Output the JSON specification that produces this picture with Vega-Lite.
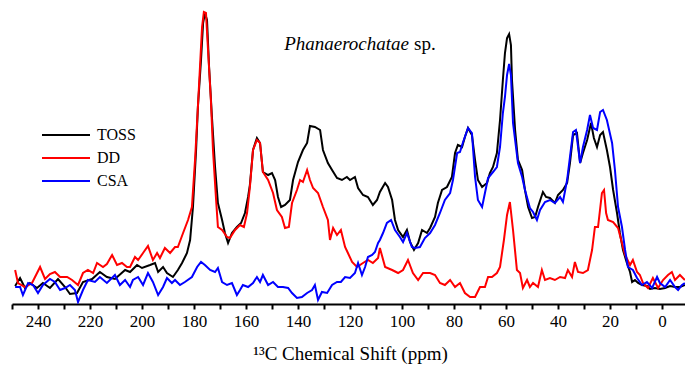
{
"$schema": "https://vega.github.io/schema/vega-lite/v6.json",
"width": 676, "height": 304,
"autosize": {"type": "none"},
"padding": {"left": 12, "top": 0, "right": 0, "bottom": 63},
"background": "white",
"config": {"font": "Liberation Serif", "view": {"stroke": null},
"axis": {"labelFont": "Liberation Serif", "titleFont": "Liberation Serif"},
"legend": {"labelFont": "Liberation Serif"},
"text": {"font": "Liberation Serif"}},
"resolve": {"axis": {"x": "independent"}},
"datasets": {
"TOSS": [
{"p":248.8,"i":18},{"p":246.9,"i":26},{"p":245.0,"i":16},{"p":243.1,"i":21},{"p":240.4,"i":16},{"p":238.1,"i":21},{"p":235.4,"i":16},{"p":232.3,"i":25},{"p":229.6,"i":17},{"p":227.7,"i":10},{"p":225.0,"i":11},{"p":222.7,"i":22},{"p":219.2,"i":25},{"p":216.2,"i":32},{"p":213.5,"i":27},{"p":210.4,"i":25},{"p":206.5,"i":34},{"p":204.6,"i":32},{"p":201.9,"i":39},{"p":200.0,"i":36},{"p":196.9,"i":39},{"p":195.0,"i":41},{"p":193.8,"i":32},{"p":191.9,"i":37},{"p":190.4,"i":31},{"p":188.1,"i":27},{"p":186.2,"i":34},{"p":184.6,"i":41},{"p":182.7,"i":51},{"p":181.5,"i":64},{"p":180.4,"i":97},{"p":179.2,"i":154},{"p":178.5,"i":197},{"p":177.3,"i":244},{"p":176.5,"i":281},{"p":175.8,"i":291},{"p":175.0,"i":284},{"p":174.2,"i":237},{"p":173.1,"i":187},{"p":171.9,"i":137},{"p":170.8,"i":101},{"p":169.2,"i":84},{"p":168.1,"i":71},{"p":166.9,"i":61},{"p":165.4,"i":71},{"p":163.5,"i":77},{"p":161.9,"i":81},{"p":160.4,"i":91},{"p":159.2,"i":107},{"p":158.5,"i":119},{"p":157.3,"i":154},{"p":155.8,"i":166},{"p":154.6,"i":161},{"p":153.5,"i":132},{"p":151.5,"i":129},{"p":150.0,"i":131},{"p":148.8,"i":124},{"p":147.7,"i":107},{"p":146.5,"i":97},{"p":145.0,"i":99},{"p":143.1,"i":104},{"p":141.9,"i":124},{"p":140.0,"i":142},{"p":138.1,"i":154},{"p":136.5,"i":161},{"p":135.4,"i":178},{"p":133.5,"i":177},{"p":131.5,"i":174},{"p":130.4,"i":154},{"p":128.5,"i":141},{"p":126.9,"i":134},{"p":125.0,"i":126},{"p":123.1,"i":124},{"p":121.2,"i":127},{"p":120.0,"i":124},{"p":118.1,"i":127},{"p":116.9,"i":116},{"p":115.0,"i":109},{"p":113.1,"i":107},{"p":111.2,"i":99},{"p":109.6,"i":104},{"p":108.5,"i":112},{"p":106.5,"i":121},{"p":105.4,"i":117},{"p":103.8,"i":104},{"p":102.7,"i":84},{"p":101.5,"i":74},{"p":99.6,"i":67},{"p":98.1,"i":74},{"p":96.9,"i":62},{"p":95.4,"i":54},{"p":93.8,"i":61},{"p":92.3,"i":74},{"p":90.4,"i":71},{"p":89.2,"i":76},{"p":87.3,"i":87},{"p":86.2,"i":101},{"p":84.6,"i":114},{"p":82.7,"i":117},{"p":80.8,"i":127},{"p":79.6,"i":151},{"p":78.5,"i":159},{"p":76.9,"i":157},{"p":75.8,"i":167},{"p":74.6,"i":176},{"p":73.1,"i":169},{"p":71.9,"i":144},{"p":70.8,"i":124},{"p":69.2,"i":117},{"p":67.3,"i":121},{"p":66.2,"i":131},{"p":65.0,"i":137},{"p":63.5,"i":151},{"p":62.3,"i":184},{"p":61.2,"i":224},{"p":60.4,"i":251},{"p":59.6,"i":266},{"p":58.8,"i":270},{"p":58.1,"i":259},{"p":57.7,"i":224},{"p":56.5,"i":174},{"p":55.4,"i":144},{"p":53.8,"i":134},{"p":52.7,"i":114},{"p":51.5,"i":97},{"p":50.0,"i":86},{"p":48.8,"i":87},{"p":47.7,"i":97},{"p":45.8,"i":112},{"p":44.6,"i":107},{"p":43.1,"i":106},{"p":41.2,"i":101},{"p":40.0,"i":109},{"p":38.1,"i":114},{"p":36.5,"i":121},{"p":35.4,"i":141},{"p":34.2,"i":169},{"p":32.7,"i":171},{"p":31.5,"i":141},{"p":30.4,"i":151},{"p":28.8,"i":164},{"p":27.3,"i":181},{"p":26.2,"i":166},{"p":25.0,"i":157},{"p":23.8,"i":169},{"p":22.7,"i":172},{"p":21.2,"i":154},{"p":20.0,"i":137},{"p":18.8,"i":114},{"p":17.3,"i":91},{"p":16.2,"i":71},{"p":15.0,"i":54},{"p":13.5,"i":41},{"p":12.3,"i":32},{"p":11.5,"i":22},{"p":10.4,"i":24},{"p":9.2,"i":21},{"p":7.7,"i":19},{"p":5.8,"i":18},{"p":4.6,"i":15},{"p":2.7,"i":16},{"p":0.8,"i":15},{"p":-1.2,"i":16},{"p":-3.1,"i":18},{"p":-5.0,"i":17},{"p":-6.9,"i":17},{"p":-8.8,"i":19}
],
"DD": [
{"p":248.8,"i":34},{"p":247.7,"i":21},{"p":245.0,"i":17},{"p":242.3,"i":21},{"p":239.2,"i":37},{"p":237.3,"i":25},{"p":235.4,"i":30},{"p":233.5,"i":32},{"p":231.5,"i":27},{"p":228.8,"i":27},{"p":226.9,"i":24},{"p":224.6,"i":19},{"p":222.7,"i":31},{"p":220.8,"i":34},{"p":218.8,"i":31},{"p":217.3,"i":41},{"p":215.0,"i":37},{"p":213.5,"i":40},{"p":211.5,"i":49},{"p":209.6,"i":39},{"p":207.7,"i":41},{"p":205.8,"i":37},{"p":204.6,"i":37},{"p":202.7,"i":47},{"p":201.5,"i":44},{"p":199.6,"i":51},{"p":197.7,"i":58},{"p":195.8,"i":44},{"p":194.2,"i":51},{"p":193.1,"i":46},{"p":191.2,"i":56},{"p":189.2,"i":51},{"p":187.3,"i":57},{"p":186.2,"i":57},{"p":184.2,"i":71},{"p":182.3,"i":84},{"p":180.8,"i":97},{"p":179.6,"i":144},{"p":178.5,"i":197},{"p":177.7,"i":237},{"p":176.9,"i":277},{"p":176.2,"i":292},{"p":175.4,"i":291},{"p":174.6,"i":254},{"p":173.5,"i":204},{"p":172.7,"i":154},{"p":171.5,"i":104},{"p":170.8,"i":77},{"p":169.2,"i":74},{"p":167.3,"i":67},{"p":166.2,"i":66},{"p":164.2,"i":74},{"p":162.3,"i":79},{"p":160.8,"i":77},{"p":159.6,"i":91},{"p":158.5,"i":117},{"p":157.3,"i":154},{"p":155.8,"i":164},{"p":154.6,"i":161},{"p":153.5,"i":132},{"p":151.5,"i":124},{"p":149.6,"i":111},{"p":148.1,"i":94},{"p":146.2,"i":87},{"p":145.0,"i":76},{"p":143.5,"i":77},{"p":142.3,"i":101},{"p":140.4,"i":114},{"p":139.2,"i":124},{"p":138.1,"i":122},{"p":136.5,"i":134},{"p":135.4,"i":124},{"p":134.2,"i":116},{"p":132.3,"i":111},{"p":130.4,"i":97},{"p":128.5,"i":84},{"p":127.7,"i":64},{"p":126.5,"i":76},{"p":125.0,"i":69},{"p":123.5,"i":74},{"p":121.9,"i":57},{"p":120.8,"i":51},{"p":119.2,"i":42},{"p":117.3,"i":37},{"p":115.0,"i":41},{"p":113.1,"i":44},{"p":111.2,"i":41},{"p":109.2,"i":46},{"p":108.5,"i":56},{"p":106.5,"i":37},{"p":103.8,"i":34},{"p":101.5,"i":31},{"p":99.6,"i":34},{"p":97.7,"i":44},{"p":95.8,"i":31},{"p":93.8,"i":24},{"p":91.9,"i":31},{"p":89.2,"i":31},{"p":87.3,"i":29},{"p":85.4,"i":21},{"p":83.5,"i":19},{"p":81.5,"i":24},{"p":79.6,"i":17},{"p":77.7,"i":21},{"p":75.8,"i":11},{"p":73.8,"i":7},{"p":71.9,"i":7},{"p":70.0,"i":17},{"p":68.1,"i":17},{"p":66.9,"i":27},{"p":65.4,"i":27},{"p":63.5,"i":31},{"p":62.3,"i":37},{"p":60.8,"i":64},{"p":59.6,"i":89},{"p":58.5,"i":102},{"p":57.3,"i":74},{"p":55.8,"i":34},{"p":54.6,"i":31},{"p":53.5,"i":16},{"p":51.9,"i":24},{"p":50.8,"i":17},{"p":49.6,"i":21},{"p":47.7,"i":17},{"p":46.2,"i":34},{"p":45.0,"i":24},{"p":43.1,"i":26},{"p":41.2,"i":24},{"p":39.2,"i":27},{"p":37.3,"i":26},{"p":36.2,"i":34},{"p":34.6,"i":27},{"p":33.5,"i":42},{"p":32.3,"i":32},{"p":30.4,"i":31},{"p":28.5,"i":34},{"p":26.9,"i":54},{"p":25.8,"i":77},{"p":24.6,"i":77},{"p":23.1,"i":111},{"p":22.3,"i":114},{"p":21.5,"i":91},{"p":20.8,"i":84},{"p":18.8,"i":82},{"p":16.9,"i":76},{"p":15.4,"i":61},{"p":14.2,"i":49},{"p":12.3,"i":39},{"p":11.2,"i":44},{"p":9.6,"i":32},{"p":8.5,"i":29},{"p":7.3,"i":21},{"p":5.4,"i":16},{"p":3.5,"i":26},{"p":1.5,"i":16},{"p":-0.4,"i":24},{"p":-2.3,"i":29},{"p":-3.8,"i":32},{"p":-5.0,"i":24},{"p":-6.9,"i":29},{"p":-8.8,"i":24}
],
"CSA": [
{"p":248.8,"i":17},{"p":246.9,"i":17},{"p":245.8,"i":9},{"p":243.8,"i":21},{"p":241.9,"i":19},{"p":240.0,"i":11},{"p":238.1,"i":19},{"p":235.4,"i":25},{"p":233.5,"i":22},{"p":231.5,"i":14},{"p":229.6,"i":16},{"p":227.7,"i":19},{"p":225.8,"i":14},{"p":224.6,"i":2},{"p":222.7,"i":14},{"p":220.8,"i":24},{"p":218.1,"i":22},{"p":216.2,"i":27},{"p":213.5,"i":21},{"p":210.4,"i":29},{"p":208.5,"i":19},{"p":206.5,"i":24},{"p":204.6,"i":17},{"p":203.5,"i":24},{"p":201.5,"i":27},{"p":199.6,"i":19},{"p":197.7,"i":31},{"p":195.8,"i":22},{"p":193.8,"i":9},{"p":191.9,"i":17},{"p":190.4,"i":26},{"p":188.5,"i":21},{"p":187.3,"i":24},{"p":185.4,"i":19},{"p":183.5,"i":22},{"p":180.8,"i":27},{"p":178.8,"i":37},{"p":177.3,"i":42},{"p":175.8,"i":39},{"p":173.8,"i":34},{"p":171.9,"i":32},{"p":170.8,"i":36},{"p":169.2,"i":22},{"p":167.3,"i":19},{"p":165.4,"i":21},{"p":163.5,"i":9},{"p":162.3,"i":14},{"p":161.2,"i":19},{"p":159.2,"i":17},{"p":157.3,"i":21},{"p":155.8,"i":27},{"p":154.6,"i":22},{"p":153.5,"i":29},{"p":151.5,"i":19},{"p":149.6,"i":22},{"p":147.7,"i":17},{"p":145.8,"i":17},{"p":143.8,"i":16},{"p":142.3,"i":11},{"p":140.4,"i":6},{"p":138.5,"i":7},{"p":136.5,"i":11},{"p":134.6,"i":14},{"p":133.5,"i":19},{"p":132.3,"i":4},{"p":130.8,"i":12},{"p":128.8,"i":11},{"p":126.9,"i":19},{"p":125.0,"i":22},{"p":123.5,"i":22},{"p":121.9,"i":27},{"p":120.0,"i":26},{"p":118.1,"i":31},{"p":116.9,"i":41},{"p":115.4,"i":29},{"p":114.2,"i":37},{"p":113.1,"i":47},{"p":111.5,"i":49},{"p":110.4,"i":52},{"p":109.2,"i":61},{"p":108.5,"i":64},{"p":107.3,"i":71},{"p":105.8,"i":81},{"p":104.2,"i":84},{"p":102.7,"i":74},{"p":100.8,"i":67},{"p":99.6,"i":62},{"p":98.1,"i":71},{"p":96.2,"i":57},{"p":95.0,"i":56},{"p":93.1,"i":57},{"p":91.2,"i":66},{"p":89.2,"i":71},{"p":87.3,"i":79},{"p":85.4,"i":91},{"p":83.5,"i":104},{"p":81.5,"i":111},{"p":80.4,"i":124},{"p":78.8,"i":151},{"p":77.7,"i":152},{"p":76.5,"i":162},{"p":74.6,"i":176},{"p":73.1,"i":171},{"p":71.9,"i":127},{"p":70.8,"i":104},{"p":69.2,"i":97},{"p":68.1,"i":111},{"p":66.9,"i":126},{"p":65.0,"i":132},{"p":63.5,"i":137},{"p":62.3,"i":157},{"p":61.2,"i":191},{"p":60.4,"i":207},{"p":59.6,"i":229},{"p":58.8,"i":240},{"p":58.1,"i":229},{"p":57.3,"i":181},{"p":55.4,"i":141},{"p":53.8,"i":127},{"p":52.7,"i":114},{"p":50.8,"i":96},{"p":49.6,"i":92},{"p":48.1,"i":84},{"p":46.9,"i":94},{"p":45.0,"i":102},{"p":43.1,"i":104},{"p":41.2,"i":101},{"p":39.2,"i":107},{"p":38.1,"i":102},{"p":36.5,"i":124},{"p":35.4,"i":147},{"p":34.2,"i":172},{"p":33.1,"i":174},{"p":31.5,"i":141},{"p":30.4,"i":157},{"p":28.8,"i":174},{"p":27.7,"i":189},{"p":26.5,"i":176},{"p":25.0,"i":174},{"p":23.8,"i":192},{"p":22.7,"i":194},{"p":21.2,"i":184},{"p":19.2,"i":161},{"p":18.1,"i":134},{"p":16.9,"i":97},{"p":15.4,"i":77},{"p":14.2,"i":54},{"p":13.1,"i":37},{"p":11.2,"i":34},{"p":9.6,"i":26},{"p":7.7,"i":19},{"p":5.8,"i":22},{"p":3.8,"i":16},{"p":1.9,"i":27},{"p":0.8,"i":21},{"p":-1.2,"i":17},{"p":-3.1,"i":24},{"p":-5.0,"i":17},{"p":-6.2,"i":14},{"p":-7.7,"i":19},{"p":-8.8,"i":21}
]
},
"layer": [
{
"data": {"name": "TOSS"},
"mark": {"type": "line", "strokeWidth": 2, "clip": true},
"encoding": {
"x": {"field": "p", "type": "quantitative",
"scale": {"domain": [-10, 250], "reverse": true, "nice": false, "zero": false},
"axis": {"orient": "bottom", "values": [240,220,200,180,160,140,120,100,80,60,40,20,0],
"grid": false, "domainColor": "black", "domainWidth": 2, "tickColor": "black", "tickWidth": 2, "tickSize": 5,
"labelFont": "Liberation Serif", "labelFontSize": 17, "labelColor": "black", "labelPadding": 4, "labelFlush": false, "labelOverlap": false,
"title": "¹³C Chemical Shift (ppm)", "titleFont": "Liberation Serif", "titleFontSize": 19, "titleFontWeight": "normal", "titleColor": "black", "titlePadding": 15}},
"y": {"field": "i", "type": "quantitative", "scale": {"domain": [0, 304], "nice": false, "zero": false}, "axis": null},
"color": {"datum": "TOSS", "type": "nominal",
"scale": {"domain": ["TOSS", "DD", "CSA"], "range": ["#000000", "#ff0000", "#0000ff"]},
"legend": {"title": null, "orient": "none", "legendX": 46, "legendY": 127, "padding": 0,
"symbolType": "M-4.8,0H4.8", "symbolSize": 100, "symbolStrokeWidth": 2,
"labelFontSize": 16, "labelColor": "black", "labelOffset": 23, "rowPadding": 7, "labelFont": "Liberation Serif"}}
}
},
{
"data": {"name": "DD"},
"mark": {"type": "line", "strokeWidth": 2, "clip": true},
"encoding": {
"x": {"field": "p", "type": "quantitative",
"axis": {"orient": "bottom", "values": [250,230,210,190,170,150,130,110,90,70,50,30,10,-10],
"labels": false, "title": null, "domain": false, "grid": false,
"tickColor": "black", "tickWidth": 2, "tickSize": 5}},
"y": {"field": "i", "type": "quantitative"},
"color": {"datum": "DD", "type": "nominal"}
}
},
{
"data": {"name": "CSA"},
"mark": {"type": "line", "strokeWidth": 2, "clip": true},
"encoding": {
"x": {"field": "p", "type": "quantitative", "axis": null},
"y": {"field": "i", "type": "quantitative"},
"color": {"datum": "CSA", "type": "nominal"}
}
},
{
"data": {"values": [{}]},
"mark": {"type": "text", "text": "Phanaerochatae", "font": "Liberation Serif", "fontStyle": "italic", "fontSize": 19, "align": "right", "baseline": "middle", "color": "black"},
"encoding": {"x": {"datum": 97.3, "axis": null}, "y": {"datum": 260}}
},
{
"data": {"values": [{}]},
"mark": {"type": "text", "text": "sp.", "font": "Liberation Serif", "fontSize": 19, "align": "left", "baseline": "middle", "color": "black", "dx": 5},
"encoding": {"x": {"datum": 97.3, "axis": null}, "y": {"datum": 260}}
}
]
}
